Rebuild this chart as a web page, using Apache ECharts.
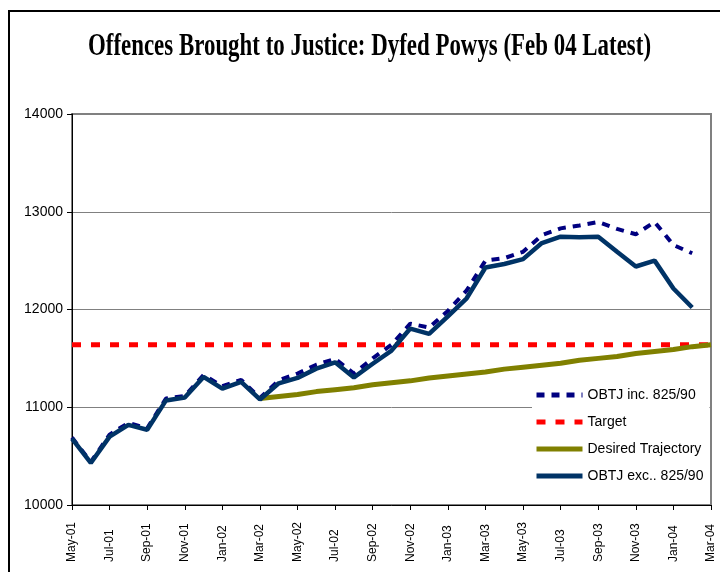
<!DOCTYPE html>
<html>
<head>
<meta charset="utf-8">
<script src="https://cdn.jsdelivr.net/npm/echarts@6/dist/echarts.min.js"></script>
<style>
  html, body { margin: 0; padding: 0; background: #fff; }
</style>
</head>
<body>
<div id="main" style="width: 720px; height: 572px"></div>
<script>
const months = ['May-01', 'Jun-01', 'Jul-01', 'Aug-01', 'Sep-01', 'Oct-01', 'Nov-01', 'Dec-01',
  'Jan-02', 'Feb-02', 'Mar-02', 'Apr-02', 'May-02', 'Jun-02', 'Jul-02', 'Aug-02', 'Sep-02', 'Oct-02', 'Nov-02', 'Dec-02',
  'Jan-03', 'Feb-03', 'Mar-03', 'Apr-03', 'May-03', 'Jun-03', 'Jul-03', 'Aug-03', 'Sep-03', 'Oct-03', 'Nov-03', 'Dec-03',
  'Jan-04', 'Feb-04', 'Mar-04']

// OBTJ inc. 825/90
const obtjInc = [10690, 10440, 10720, 10840, 10785, 11090, 11115, 11330,
  11215, 11280, 11095, 11275, 11345, 11435, 11495, 11345, 11500, 11640, 11855, 11815,
  11985, 12195, 12500, 12525, 12590, 12760, 12830, 12860, 12895, 12825, 12770, 12895,
  12660, 12575, null]

// OBTJ exc.. 825/90
const obtjExc = [10680, 10430, 10700, 10820, 10770, 11070, 11100, 11310,
  11190, 11260, 11080, 11245, 11300, 11395, 11460, 11305, 11445, 11580, 11805, 11750,
  11930, 12115, 12430, 12465, 12515, 12680, 12745, 12740, 12745, 12590, 12440, 12500,
  12215, 12020, null]

const target = [11640, 11640, 11640, 11640, 11640, 11640, 11640, 11640,
  11640, 11640, 11640, 11640, 11640, 11640, 11640, 11640, 11640, 11640, 11640, 11640,
  11640, 11640, 11640, 11640, 11640, 11640, 11640, 11640, 11640, 11640, 11640, 11640,
  11640, 11640, 11640]

const trajectory = [null, null, null, null, null, null, null, null,
  null, null, 11090, 11110, 11130, 11160, 11180, 11200, 11230, 11250, 11270, 11300,
  11320, 11340, 11360, 11390, 11410, 11430, 11450, 11480, 11500, 11520, 11550, 11570,
  11590, 11620, 11640]

const titleText = 'Offences Brought to Justice: Dyfed Powys (Feb 04 Latest)'

// squeeze the serif title to the narrow width used in the original
const titleFont = 'bold 31px "Liberation Serif", "Times New Roman", serif'
const ctx = document.createElement('canvas').getContext('2d')
ctx.font = titleFont
const titleScale = 563 / ctx.measureText(titleText).width

const chart = echarts.init(document.getElementById('main'))

const option = {
  animation: false,
  backgroundColor: '#fff',
  textStyle: { fontFamily: '"Liberation Sans", Arial, sans-serif' },
  graphic: [
    {
      type: 'rect',
      z: -10,
      shape: { x: 9, y: 11, width: 720, height: 600 },
      style: { fill: null, stroke: '#000', lineWidth: 2 }
    },
    {
      type: 'text',
      x: 88,
      y: 47,
      scaleX: titleScale,
      style: {
        text: titleText,
        font: titleFont,
        fill: '#000',
        textAlign: 'left',
        textVerticalAlign: 'middle'
      }
    }
  ],
  grid: {
    left: 72,
    right: 9,
    top: 114,
    bottom: 67,
    show: true,
    borderColor: '#808080',
    borderWidth: 2
  },
  legend: {
    orient: 'vertical',
    left: 532,
    top: 382,
    padding: [6, 6, 6, 2],
    itemGap: 13,
    itemWidth: 46,
    itemHeight: 14,
    backgroundColor: '#fff',
    itemStyle: { opacity: 0 },
    lineStyle: { width: 5 },
    textStyle: { fontSize: 14, color: '#000', fontFamily: '"Liberation Sans", Arial, sans-serif' },
    data: ['OBTJ inc. 825/90', 'Target', 'Desired Trajectory', 'OBTJ exc.. 825/90']
  },
  xAxis: {
    type: 'category',
    data: months,
    boundaryGap: false,
    axisLine: { lineStyle: { color: '#000', width: 1 } },
    axisTick: { interval: 1, length: 5, lineStyle: { color: '#000' } },
    axisLabel: {
      interval: 1,
      rotate: 90,
      align: 'left',
      margin: 57,
      fontSize: 12,
      color: '#000'
    },
    splitLine: { show: false }
  },
  yAxis: {
    type: 'value',
    min: 10000,
    max: 14000,
    interval: 1000,
    axisLine: { show: true, lineStyle: { color: '#000', width: 1 } },
    axisTick: { show: true, length: 5, lineStyle: { color: '#000' } },
    axisLabel: { fontSize: 14, color: '#000', margin: 9, formatter: v => String(v) },
    splitLine: { lineStyle: { color: '#808080', width: 1 } }
  },
  series: [
    {
      name: 'OBTJ inc. 825/90',
      type: 'line',
      data: obtjInc,
      symbol: 'none',
      color: '#000080',
      lineStyle: { color: '#000080', width: 4, type: [8, 7] }
    },
    {
      name: 'Target',
      type: 'line',
      data: target,
      symbol: 'none',
      color: '#ff0000',
      lineStyle: { color: '#ff0000', width: 5, type: [9, 10] }
    },
    {
      name: 'Desired Trajectory',
      type: 'line',
      data: trajectory,
      symbol: 'none',
      color: '#808000',
      lineStyle: { color: '#808000', width: 5 }
    },
    {
      name: 'OBTJ exc.. 825/90',
      type: 'line',
      data: obtjExc,
      symbol: 'none',
      color: '#003366',
      lineStyle: { color: '#003366', width: 4.5 }
    }
  ]
}

chart.setOption(option)
</script>
</body>
</html>
